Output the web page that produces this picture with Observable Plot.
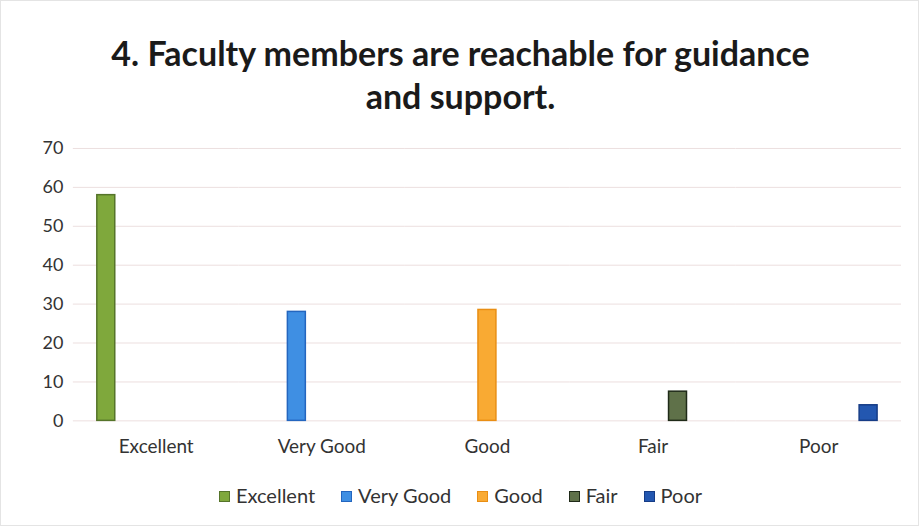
<!DOCTYPE html>
<html><head><meta charset="utf-8">
<script src="https://cdn.jsdelivr.net/npm/d3@7"></script>
<script src="https://cdn.jsdelivr.net/npm/@observablehq/plot@0.6"></script>
<style>
html,body{margin:0;padding:0;background:#fff;}
#wrap{position:relative;width:917px;height:524px;border:1px solid #e4e4e4;overflow:hidden;font-family:Lato,"Open Sans",sans-serif;}
#title{position:absolute;left:0;top:30px;width:919px;text-align:center;font-weight:700;font-size:34px;line-height:43px;color:#1a1a1a;}
#chart{position:absolute;left:0;top:130px;}
#legend{position:absolute;left:0;top:482px;width:919px;text-align:center;font-size:20px;color:#333;}
#legend span.item{margin:0 13px;white-space:nowrap;}
#legend span.sw{display:inline-block;width:11px;height:11px;margin-right:6px;vertical-align:1px;box-sizing:border-box;border:1px solid;}
</style></head>
<body><div id="wrap">
<div id="title">4. Faculty members are reachable for guidance<br>and support.</div>
<div id="chart"></div>
<div id="legend"></div>
</div>
<script>
const categories = ["Excellent", "Very Good", "Good", "Fair", "Poor"];
const series = ["Excellent", "Very Good", "Good", "Fair", "Poor"];
const values = [58, 28, 28.5, 7.5, 4];
const yTicks = [0, 10, 20, 30, 40, 50, 60, 70];
const fills = ["#7fa83c", "#3f8fe3", "#f9aa33", "#5f7149", "#2357b0"];
const strokes = ["#55742a", "#2466bf", "#e98e14", "#1f2a18", "#163c86"];

const rows = categories.map((c, i) => ({category: c, series: series[i], value: values[i]}));

const chart = Plot.plot({
  width: 919,
  height: 340,
  marginTop: 17,
  marginBottom: 50,
  marginLeft: 71,
  marginRight: 16,
  style: {fontFamily: "Lato, 'Open Sans', sans-serif", fontSize: "19px", color: "#333", background: "transparent"},
  fx: {domain: categories, paddingInner: 0, paddingOuter: 0, axis: "bottom", label: null, tickSize: 0, tickPadding: 19},
  x: {domain: series, paddingInner: 0.29, paddingOuter: 0.9, axis: null},
  y: {domain: [0, 70], label: null},
  marks: [
    Plot.ruleY(yTicks, {stroke: "#ecdfdf", strokeWidth: 1}),
    Plot.axisY({ticks: yTicks, tickSize: 0, tickPadding: 10, label: null, fontSize: 18}),
    ...series.map((s, i) => Plot.barY(rows.filter(r => r.series === s), {
      fx: "category", x: "series", y: "value", fill: fills[i], stroke: strokes[i], strokeWidth: 1.5
    }))
  ]
});
document.getElementById("chart").appendChild(chart);

const lg = document.getElementById("legend");
series.forEach((s, i) => {
  const item = document.createElement("span");
  item.className = "item";
  const sw = document.createElement("span");
  sw.className = "sw";
  sw.style.background = fills[i];
  sw.style.borderColor = strokes[i];
  item.appendChild(sw);
  item.appendChild(document.createTextNode(s));
  lg.appendChild(item);
});
</script>
</body></html>
